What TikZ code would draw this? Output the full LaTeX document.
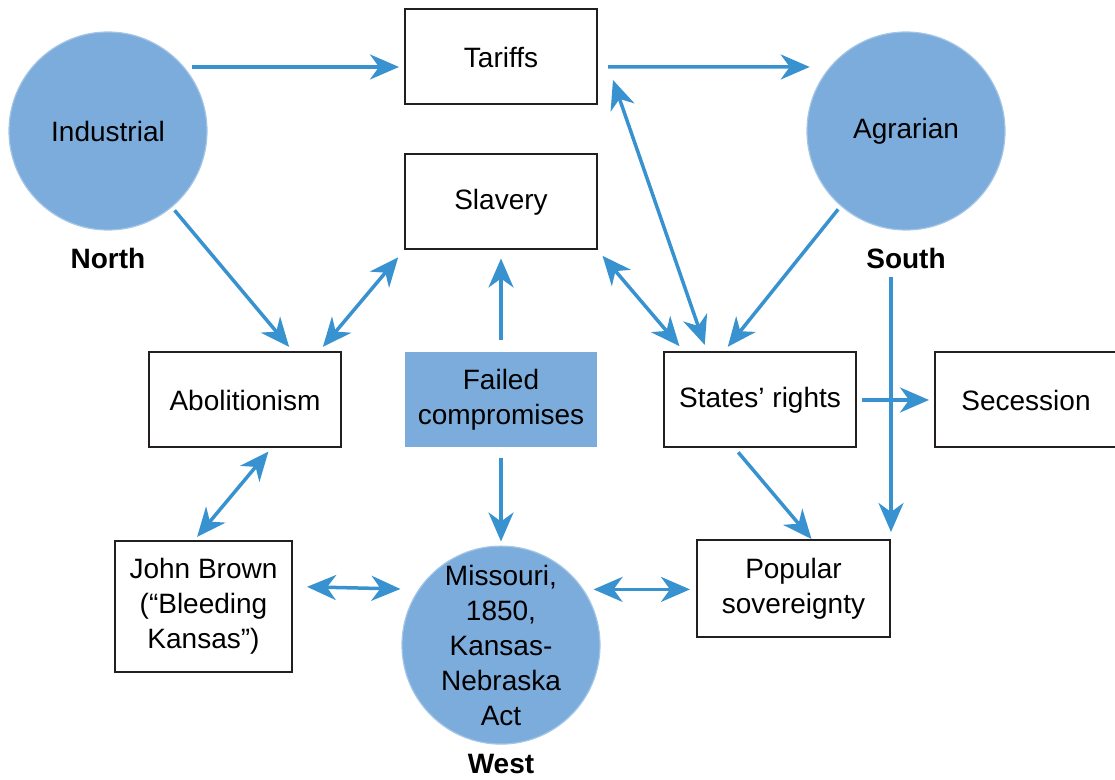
\documentclass[tikz,border=0pt]{standalone}
\usepackage{fontspec}
\setmainfont{Liberation Sans}
\usetikzlibrary{positioning,arrows.meta}
\definecolor{flowblue}{RGB}{56,146,208}
\definecolor{discblue}{RGB}{123,172,220}
\definecolor{edgegray}{RGB}{35,31,32}
\tikzset{
	>={Stealth[length=14.5pt,width=12.5pt,inset=4.5pt]}
}

\begin{document}
\begin{tikzpicture}[
x = 0.5pt, y = -0.5pt,
every node/.style = {
	font = \fontsize{14}{17.5}\selectfont
},
issue/.style = {
	draw = edgegray,
	line width = 1pt,
	minimum width = 96pt,
	minimum height = 47.5pt,
	align = center
},
region/.style = {
	circle,
	fill = discblue,
	draw = discblue!70!white,
	line width = 0.6pt,
	minimum size = 99pt,
	inner sep = 0pt,
	align = center
},
side/.style = {
	font = \fontsize{14}{17.5}\selectfont\bfseries,
	inner sep = 0pt
},
link/.style = {
	draw = flowblue,
	line width = 1.75pt
}
]
\useasboundingbox (0,0) rectangle (1115,780);

\node[region] 							(ind)	at (108,131)	{Industrial};
\node[side, below=8.5pt of ind]			(north)	{North};
\node[region] 							(agr)	at (906,131)	{Agrarian};
\node[side, below=8.5pt of agr]			(south)	{South};

\node[issue]							(tar)	at (501,57)		{Tariffs};
\node[issue, below=24pt of tar]			(sla)	{Slavery};
\node[issue, fill=discblue, draw=none, below=50.5pt of sla]	(fail)	{Failed\\compromises};
\node[issue, left=31pt of fail]			(abol)	{Abolitionism};
\node[issue, right=32.5pt of fail]		(sr)	{States’ rights};
\node[issue, minimum width=91pt, right=38.5pt of sr]	(sec)	{Secession};

\node[region, inner sep=-6pt, below=48.5pt of fail]	(mis)	{Missouri,\\1850,\\Kansas-\\Nebraska\\Act};
\node[side, below=4.5pt of mis]			(west)	{West};
\node[issue, minimum width=88.5pt, minimum height=65.5pt]	(jb)	at (203.5,606.5)	{John Brown\\(“Bleeding\\Kansas”)};
\node[issue, minimum width=96.5pt, minimum height=48.5pt]	(pop)	at (793.5,588.5)	{Popular\\sovereignty};

\draw[link, ->, shorten <=4pt, shorten >=2.5pt] (ind.40) -- (ind.40 -| tar.west);
\draw[link, ->, shorten <=5pt, shorten >=10pt] ([yshift=-5pt]tar.east) -- (agr.140);
\draw[link, ->, shorten <=2pt, shorten >=3pt] (ind.-50) -- ([xshift=24pt]abol.north);
\draw[link, <->, shorten <=3pt, shorten >=4.5pt] ([xshift=37pt]abol.north) -- (sla.south west);
\draw[link, ->, shorten <=5.5pt, shorten >=4pt] (fail.north) -- (sla.south);
\draw[link, <->, shorten <=3.5pt, shorten >=3.5pt] (sla.south east) -- ([xshift=-38pt]sr.north);
\draw[link, <->, shorten >=3.5pt] ([xshift=7.5pt, yshift=-11.5pt]tar.east) -- ([xshift=-26.5pt]sr.north);
\draw[link, ->, shorten <=2pt, shorten >=3pt] (agr.-131) -- ([xshift=-18pt]sr.north);
\draw[link, ->, shorten <=4pt, shorten >=3.5pt] (south.south -| pop.east) -- (pop.north east);
\draw[link, ->, shorten <=2.5pt, shorten >=2.5pt] (sr.east) -- (sec.west);
\draw[link, ->, shorten <=2.5pt] ([xshift=-12.5pt]sr.south) -- ([xshift=9pt]pop.north);
\draw[link, ->, shorten <=5pt, shorten >=2pt] (fail.south) -- (mis.north);
\draw[link, <->, shorten <=2pt, shorten >=2pt] ([xshift=13pt]abol.south) -- ([xshift=-4.5pt]jb.north);
\draw[link, <->, shorten <=7pt, shorten >=9pt] ([yshift=10pt]jb.east) -- (mis.146);
\draw[link, <->, shorten <=5pt, shorten >=3pt] (mis.34) -- (mis.34 -| pop.west);
\end{tikzpicture}
\end{document}
